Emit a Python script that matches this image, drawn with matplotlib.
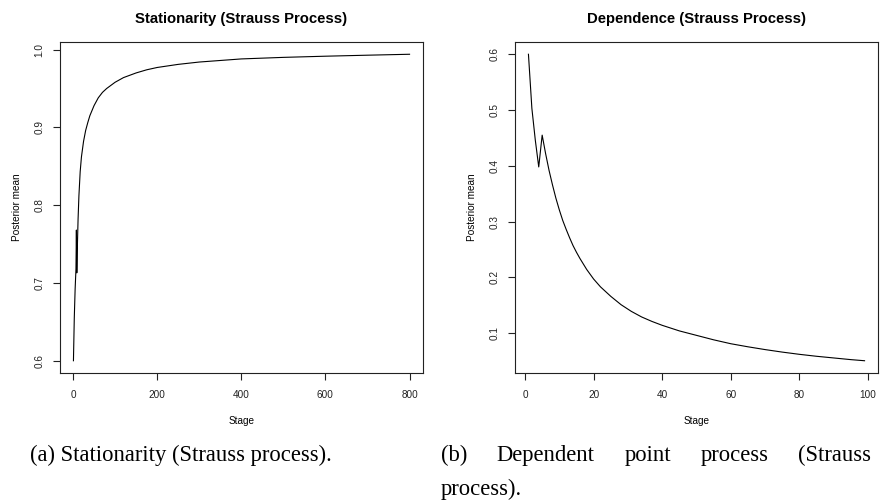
import matplotlib.pyplot as plt

# values
stat_stage = [1, 3, 5, 7, 8, 9, 10, 12, 14, 17, 20, 25, 30, 35, 40, 50, 60,
              70, 80, 100, 120, 150, 175, 200, 250, 300, 350, 400, 500, 600,
              700, 800]
stat_mean = [0.600, 0.655, 0.692, 0.718, 0.768, 0.713, 0.740, 0.782, 0.812,
             0.843, 0.862, 0.882, 0.896, 0.906, 0.915, 0.928, 0.938, 0.945,
             0.950, 0.958, 0.964, 0.970, 0.974, 0.977, 0.981, 0.984, 0.986,
             0.988, 0.990, 0.9915, 0.9928, 0.994]

dep_stage = [1, 2, 3, 4, 5, 6, 7, 8, 9, 10, 11, 12, 13, 14, 15, 16, 18, 20,
             22, 25, 28, 31, 34, 37, 40, 45, 50, 55, 60, 65, 70, 75, 80, 85,
             90, 95, 99]
dep_mean = [0.600, 0.503, 0.446, 0.398, 0.455, 0.422, 0.392, 0.366, 0.342,
            0.321, 0.302, 0.286, 0.271, 0.257, 0.245, 0.234, 0.214, 0.197,
            0.183, 0.166, 0.151, 0.139, 0.129, 0.121, 0.114, 0.104, 0.096,
            0.088, 0.081, 0.0755, 0.0705, 0.066, 0.062, 0.0585, 0.0555,
            0.0525, 0.0505]

stat_xticks = [0, 200, 400, 600, 800]
stat_yticks = [0.6, 0.7, 0.8, 0.9, 1.0]
dep_xticks = [0, 20, 40, 60, 80, 100]
dep_yticks = [0.1, 0.2, 0.3, 0.4, 0.5, 0.6]

plt.rcParams['font.family'] = ['Liberation Sans', 'DejaVu Sans']

W, H = 881, 504
fig = plt.figure(figsize=(W / 100, H / 100), dpi=100)


def r_lims(v):
    # R's default 4% axis extension
    lo, hi = min(v), max(v)
    pad = (hi - lo) * 0.04
    return lo - pad, hi + pad


def r_panel(rect, x, y, title, xticks, yticks):
    ax = fig.add_axes(rect)
    ax.plot(x, y, color='black', lw=0.8)
    ax.set_xlim(*r_lims(x))
    ax.set_ylim(*r_lims(y))
    ax.set_xticks(xticks)
    ax.set_yticks(yticks)
    ax.set_yticklabels([f'{t:.1f}' for t in yticks], rotation=90, va='center')
    ax.tick_params(direction='out', length=5, width=0.8, labelsize=7.2,
                   colors='#222222')
    ax.tick_params(axis='x', pad=7.5)
    ax.tick_params(axis='y', pad=6)
    ax.set_title(title, fontsize=10.7, fontweight='bold', pad=14)
    ax.set_xlabel('Stage', fontsize=7.2, labelpad=11)
    ax.set_ylabel('Posterior mean', fontsize=7.2, labelpad=9)
    for s in ax.spines.values():
        s.set_linewidth(0.8)
        s.set_color('#222222')
    return ax


r_panel([60 / W, 1 - 373 / H, 363 / W, 331 / H], stat_stage, stat_mean,
        'Stationarity (Strauss Process)', stat_xticks, stat_yticks)
r_panel([515 / W, 1 - 373 / H, 363 / W, 331 / H], dep_stage, dep_mean,
        'Dependence (Strauss Process)', dep_xticks, dep_yticks)

# captions
cap_kw = dict(family=['Liberation Serif', 'DejaVu Serif'], fontsize=16.3,
              va='center')
fig.text(30 / W, 1 - 455 / H, '(a) Stationarity (Strauss process).', **cap_kw)

# justified first line of caption (b)
words = ['(b)', 'Dependent', 'point', 'process', '(Strauss']
left, right = 441, 871
r = fig.canvas.get_renderer()
texts = [fig.text(0, 1 - 455 / H, w, **cap_kw) for w in words]
widths = [t.get_window_extent(renderer=r).width for t in texts]
gap = (right - left - sum(widths)) / (len(words) - 1)
x = left
for t, w in zip(texts, widths):
    t.set_x(x / W)
    x += w + gap
fig.text(left / W, 1 - 489 / H, 'process).', **cap_kw)

fig.savefig('out.png', dpi=100)
